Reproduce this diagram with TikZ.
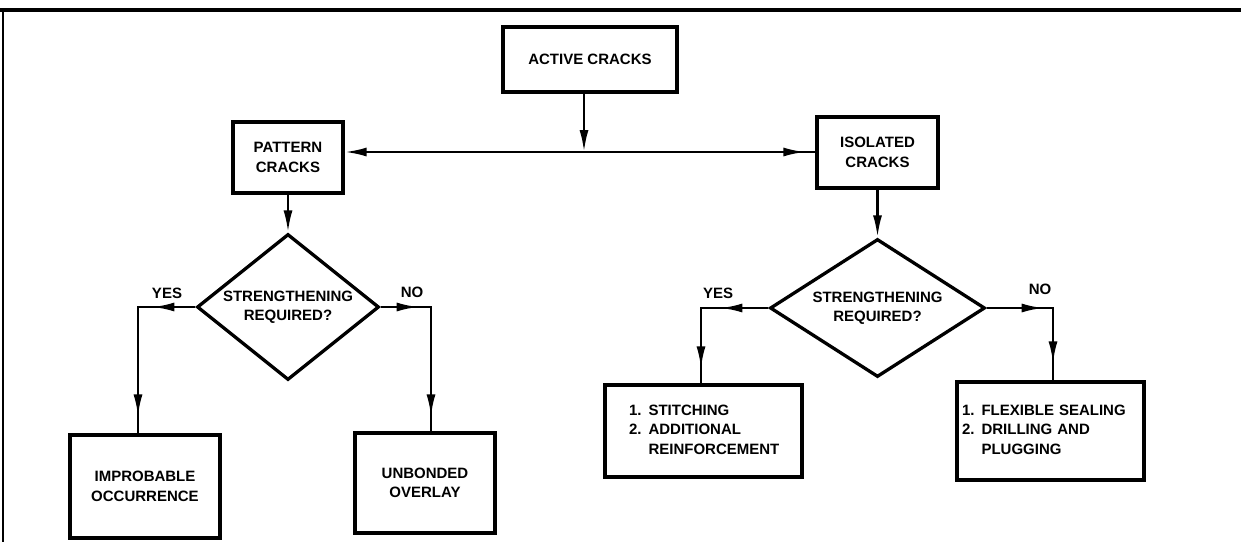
\documentclass[tikz,border=0pt]{standalone}
\usepackage{fontspec}
\setmainfont{Liberation Sans}
\usetikzlibrary{shapes.geometric,arrows.meta,decorations.markings}
\begin{document}
\begin{tikzpicture}[x=1pt,y=-1pt,
  font=\fontsize{15}{19.5}\selectfont\bfseries,
  >={Latex[length=22pt,width=9pt]},
  box/.style={draw,line width=3.3pt,rectangle,align=center,inner sep=0pt},
  listbox/.style={draw,line width=3.3pt,rectangle,align=left,inner sep=0pt},
  dia/.style={draw,line width=3.3pt,diamond,inner sep=0pt},
  conn/.style={line width=2.5pt},
  am/.style={postaction={decorate,decoration={markings,mark=at position #1 with {\arrow{Latex[length=22pt,width=9pt]}}}}},
  lbl/.style={inner sep=0pt}
]
\useasboundingbox (0,0) rectangle (1241,542);
% frame
\draw[line width=3.5pt] (0,10) -- (1241,10);
\draw[line width=1.5pt] (3,10) -- (3,542);

% nodes
\node[box,minimum width=174pt,minimum height=65pt] (act) at (590,59.5) {ACTIVE CRACKS};
\node[box,minimum width=110pt,minimum height=71pt] (pat) at (288,157.5) {PATTERN\\CRACKS};
\node[box,minimum width=121pt,minimum height=71pt] (iso) at (877.5,152.5) {ISOLATED\\CRACKS};

\node[dia,minimum width=182pt,minimum height=146pt,
  label={[lbl,align=center]center:{STRENGTHENING\\REQUIRED?}}] (dL) at (288,307) {};
\node[dia,minimum width=215pt,minimum height=138pt,
  label={[lbl,align=center]center:{STRENGTHENING\\REQUIRED?}}] (dR) at (877.5,308) {};

\node[box,minimum width=150pt,minimum height=103pt] (imp) at (145,486.5) {IMPROBABLE\\OCCURRENCE};
\node[box,minimum width=140pt,minimum height=100pt] (unb) at (425,483) {UNBONDED\\OVERLAY};

\node[listbox,minimum width=197pt,minimum height=92pt,text width=149pt] (sti) at (703.5,431)
  {\begin{tabular}{@{}l@{\hspace{7pt}}l@{}}1. & STITCHING\\ 2. & ADDITIONAL\\ & REINFORCEMENT\end{tabular}};
\node[listbox,minimum width=187pt,minimum height=98pt,text width=177pt] (flx) at (1050.5,431)
  {\begin{tabular}{@{}l@{\hspace{7pt}}l@{}}1. & FLEXIBLE SEALING\\ 2. & DRILLING AND\\ & PLUGGING\end{tabular}};

% labels
\node[lbl] (yL) at (167,293) {YES};
\node[lbl] (nL) at (412,292) {NO};
\node[lbl] (yR) at (718,293) {YES};
\node[lbl] (nR) at (1040,289) {NO};

% connectors
\coordinate (j) at (584,152);
\draw[conn,->] (act.south -| j) -- (j);
\draw[conn,->] (j) -- (pat.east |- j);
\draw[conn,am=-10pt] (j) -- (iso.west |- j);
\draw[conn,->] (pat.south) -- (dL.north);
\draw[conn,->] (iso.south) -- (dR.north);

\coordinate (cYL) at (138,307);
\coordinate (cNL) at (431,307);
\coordinate (cYR) at (701,308);
\coordinate (cNR) at (1053,308);
\draw[conn,am=43pt,am=-17pt] (dL.west) -- (cYL) -- (cYL |- imp.north);
\draw[conn,am=38pt,am=-15pt] (dL.east) -- (cNL) -- (cNL |- unb.north);
\draw[conn,am=48pt,am=-15pt] (dR.west) -- (cYR) -- (cYR |- sti.north);
\draw[conn,am=57pt,am=-17pt] (dR.east) -- (cNR) -- (cNR |- flx.north);
\end{tikzpicture}
\end{document}
